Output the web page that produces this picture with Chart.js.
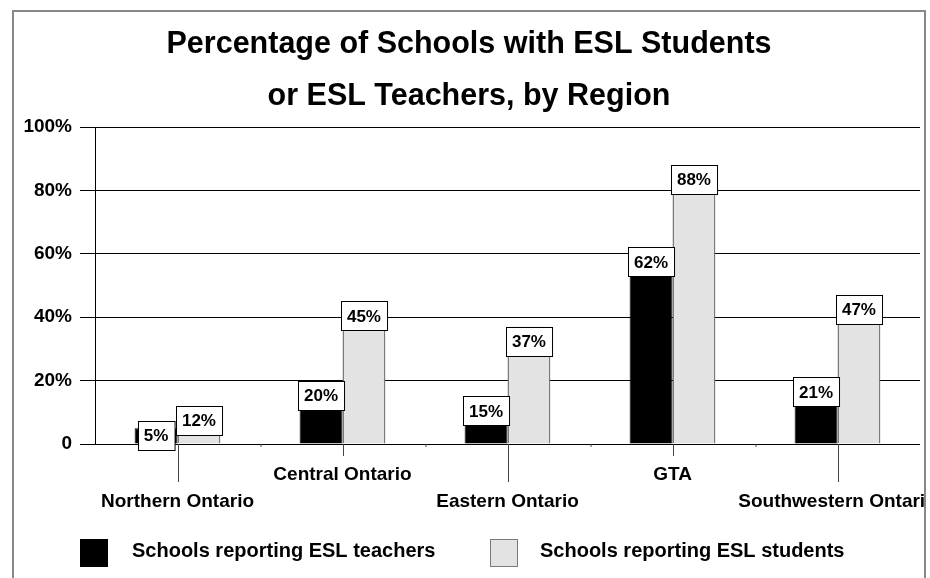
<!DOCTYPE html>
<html>
<head>
<meta charset="utf-8">
<title>ESL by Region</title>
<script src="https://cdn.jsdelivr.net/npm/chart.js"></script>
<style>
  html, body { margin: 0; padding: 0; background: #fff; }
  #wrap { width: 930px; height: 578px; }
</style>
</head>
<body>
<div id="wrap"><canvas id="eslChart" width="930" height="578"></canvas></div>
<script>
var regions = ['Northern Ontario', 'Central Ontario', 'Eastern Ontario', 'GTA', 'Southwestern Ontario'];
var eslTeachers = [5, 20, 15, 62, 21];
var eslStudents = [12, 45, 37, 88, 47];
var seriesNames = ['Schools reporting ESL teachers', 'Schools reporting ESL students'];
var titleLines = ['Percentage of Schools with ESL Students', 'or ESL Teachers, by Region'];

var FONT = "'Liberation Sans', Arial, sans-serif";

// value boxes, staggered region names, legend and outer frame
var eslPlugin = {
    id: 'eslExtras',
    beforeDraw: function(chart) {
        var c = chart.ctx;
        c.save();
        c.fillStyle = '#fff';
        c.fillRect(0, 0, chart.width, chart.height);
        c.restore();
    },
    afterDatasetsDraw: function(chart) {
        var c = chart.ctx;
        var zeroY = chart.scales.y.getPixelForValue(0);
        c.save();
        c.font = 'bold 17px ' + FONT;
        c.textAlign = 'center';
        c.textBaseline = 'middle';
        chart.data.datasets.forEach(function(ds, di) {
            chart.getDatasetMeta(di).data.forEach(function(bar, i) {
                var txt = ds.data[i] + '%';
                var w = c.measureText(txt).width + 12;
                var h = 29;
                var top = Math.min(bar.y, zeroY + 6 - h);
                var left = Math.round(bar.x - w / 2) + 0.5;
                c.fillStyle = '#fff';
                c.fillRect(left, Math.round(top) + 0.5, w, h);
                c.strokeStyle = '#000';
                c.lineWidth = 1;
                c.strokeRect(left, Math.round(top) + 0.5, w, h);
                c.fillStyle = '#000';
                c.fillText(txt, bar.x, top + h / 2 + 1);
            });
        });
        c.restore();
    },
    afterDraw: function(chart) {
        var c = chart.ctx;
        var xs = chart.scales.x;
        var zeroY = chart.scales.y.getPixelForValue(0);
        var step = xs.getPixelForValue(1) - xs.getPixelForValue(0);
        c.save();

        // tick marks below the axis
        c.strokeStyle = '#444';
        c.lineWidth = 1;
        regions.forEach(function(r, i) {
            var x = Math.round(xs.getPixelForValue(i)) + 0.5;
            c.beginPath();
            c.moveTo(x, zeroY);
            c.lineTo(x, zeroY + (i % 2 === 0 ? 38 : 12));
            c.stroke();
            if (i > 0) {
                var bx = Math.round(x - step / 2);
                c.beginPath();
                c.moveTo(bx, zeroY);
                c.lineTo(bx, zeroY + 3);
                c.stroke();
            }
        });

        // region names, alternating rows, clipped by the frame
        c.save();
        c.beginPath();
        c.rect(0, 0, 925, chart.height);
        c.clip();
        c.font = 'bold 19px ' + FONT;
        c.fillStyle = '#000';
        c.textAlign = 'center';
        c.textBaseline = 'alphabetic';
        regions.forEach(function(r, i) {
            var x = xs.getPixelForValue(i);
            c.fillText(r, x, i % 2 === 0 ? 507 : 480);
        });
        c.restore();

        // legend
        var legendX = [[80, 132], [490, 540]];
        c.font = 'bold 20px ' + FONT;
        c.textAlign = 'left';
        chart.data.datasets.forEach(function(ds, di) {
            var bx = legendX[di][0];
            c.fillStyle = ds.backgroundColor;
            c.fillRect(bx + 0.5, 539.5, 27, 27);
            c.strokeStyle = ds.borderColor;
            c.lineWidth = 1;
            c.strokeRect(bx + 0.5, 539.5, 27, 27);
            c.fillStyle = '#000';
            c.fillText(ds.label, legendX[di][1], 557);
        });

        // outer frame
        c.strokeStyle = '#888';
        c.lineWidth = 2;
        c.beginPath();
        c.moveTo(13, chart.height + 2);
        c.lineTo(13, 11);
        c.lineTo(925, 11);
        c.lineTo(925, chart.height + 2);
        c.stroke();
        c.restore();
    }
};

var ctx = document.getElementById('eslChart');

var eslChart = new Chart(ctx, {
    type: 'bar',
    data: {
        labels: regions,
        datasets: [
            {
                label: seriesNames[0],
                data: eslTeachers,
                backgroundColor: '#000000',
                borderColor: '#000000',
                borderWidth: 1,
                categoryPercentage: 0.52,
                barPercentage: 1
            },
            {
                label: seriesNames[1],
                data: eslStudents,
                backgroundColor: '#e3e3e3',
                borderColor: '#7a7a7a',
                borderWidth: 1.5,
                categoryPercentage: 0.52,
                barPercentage: 1
            }
        ]
    },
    options: {
        responsive: false,
        animation: false,
        layout: { padding: { left: 18, right: 10, top: 0, bottom: 134 } },
        plugins: {
            legend: { display: false },
            tooltip: { enabled: false },
            title: {
                display: true,
                text: titleLines,
                color: '#000',
                font: { family: FONT, size: 30.5, weight: 'bold', lineHeight: 1.705 },
                padding: { top: 19, bottom: 4 }
            }
        },
        scales: {
            x: {
                grid: { display: false },
                border: { display: false },
                ticks: { display: false },
                afterFit: function(scale) { scale.height = 0; }
            },
            y: {
                min: 0,
                max: 100,
                ticks: {
                    stepSize: 20,
                    padding: 8,
                    color: '#000',
                    font: { family: FONT, size: 19, weight: 'bold' },
                    callback: function(v) { return v === 0 ? '0' : v + '%'; }
                },
                grid: { color: '#000', lineWidth: 1, tickLength: 15, tickColor: '#000' },
                border: { display: true, color: '#000', width: 1 },
                afterFit: function(scale) { scale.width = 77; }
            }
        }
    },
    plugins: [eslPlugin]
});
</script>
</body>
</html>
